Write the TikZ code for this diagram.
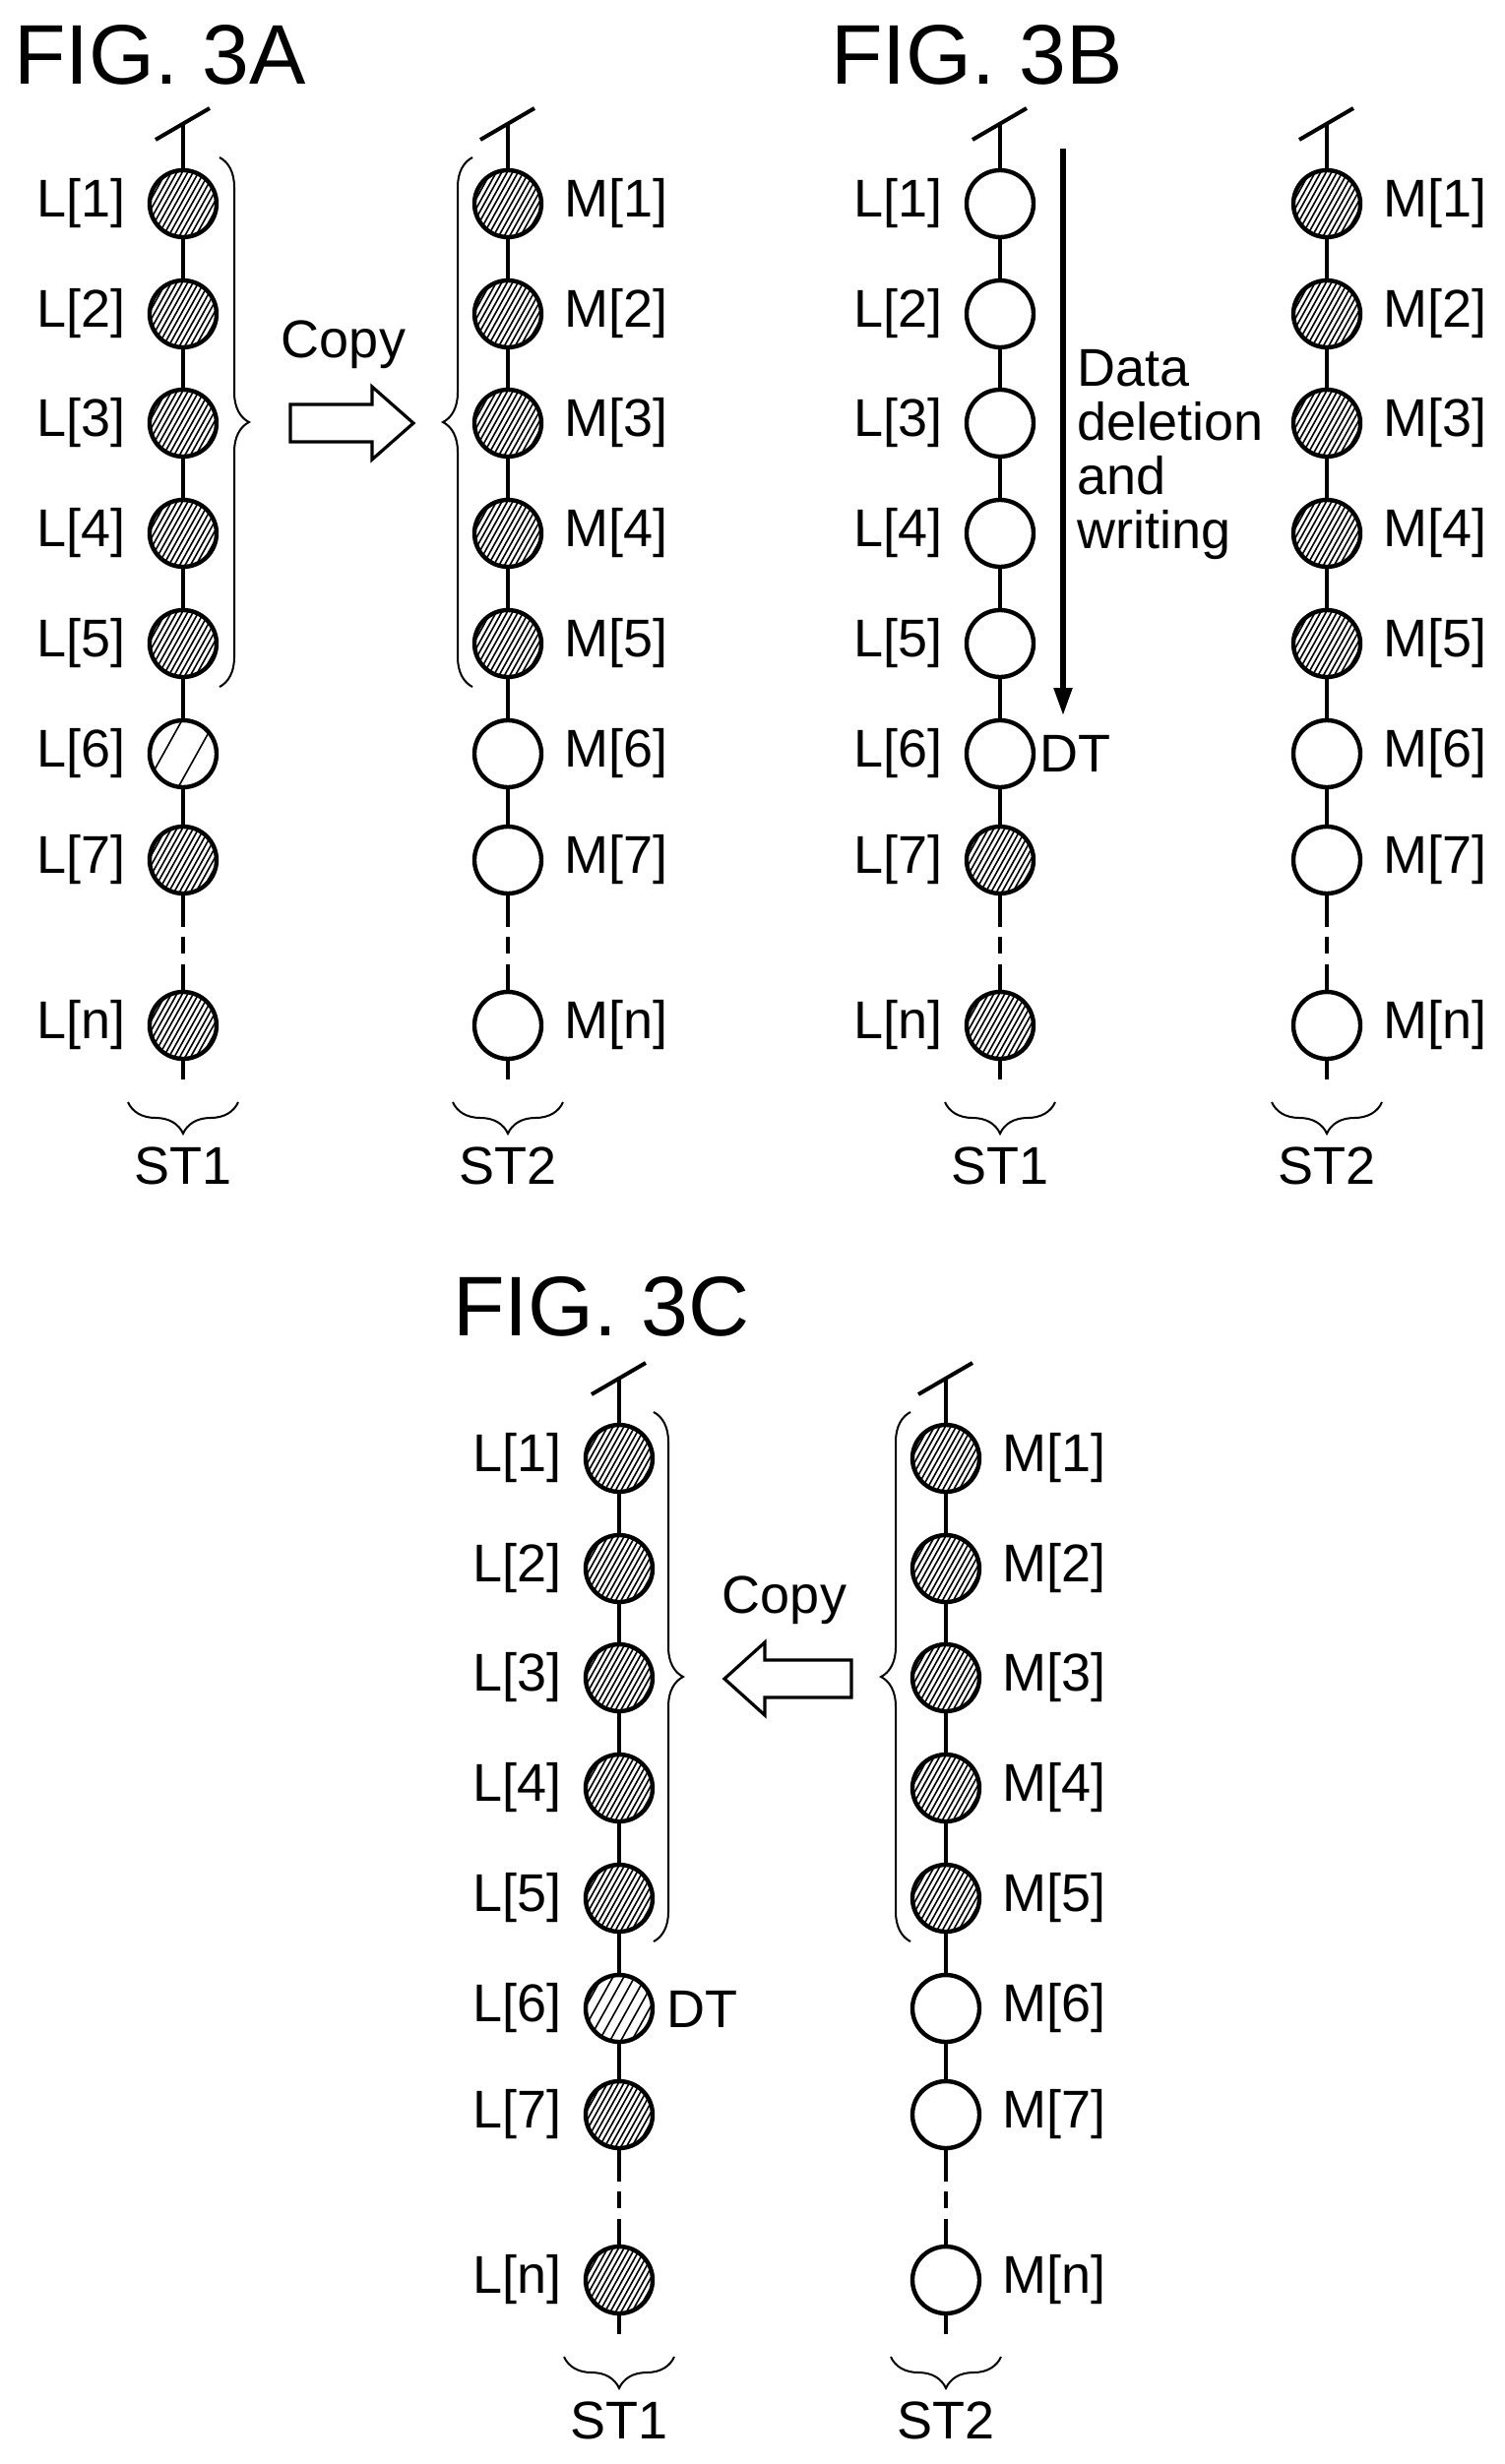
\documentclass[tikz,border=0pt]{standalone}
\usepackage{fontspec}
\setmainfont{Liberation Sans}
\usetikzlibrary{arrows.meta,decorations.pathreplacing}
\tikzset{
 cell/.style={circle,draw,line width=2.2pt,minimum size=34pt,inner sep=0pt,fill=white},
 w/.style={cell},
 h/.style={cell,path picture={\foreach \k in {-90,-84.5,...,90}{\draw[line width=0.8pt] ([shift={(\k-25,45)}]path picture bounding box.center) -- ++(50,-90);}}},
 m/.style={cell,path picture={\foreach \k in {-90,-79,...,90}{\draw[line width=0.8pt] ([shift={(\k-25,45)}]path picture bounding box.center) -- ++(50,-90);}}},
 sp/.style={cell,path picture={\foreach \k in {-20,14}{\draw[line width=0.8pt] ([shift={(\k-25,45)}]path picture bounding box.center) -- ++(50,-90);}}},
 wire/.style={line width=2pt},
 lab/.style={font=\fontsize{27}{29}\selectfont,inner sep=0pt},
 ttl/.style={font=\fontsize{43}{45}\selectfont,inner sep=0pt,anchor=west},
 vbrace/.style={decorate,decoration={brace,amplitude=15pt},line width=1pt},
 bbrace/.style={decorate,decoration={brace,amplitude=16pt},line width=1pt},
 big/.style={draw,line width=1.6pt,fill=white},
}
\newcommand\stcol[8]{%
 \coordinate (#1-t) at (#2,#3-80);
 \coordinate (#1-b) at (#2,#3+890);
 \coordinate (#1-s1) at (#2-28,#3-65);
 \coordinate (#1-s2) at (#2+27,#3-97);
 \draw[wire] (#1-s1) -- (#1-s2);
 \foreach \s [count=\i] in {#4}{%
  \pgfmathsetmacro\yy{#3+{0,112,223,335,447,559,667,835}[\i-1]}
  \node[\s] (#1-\i) at (#2,\yy) {};
  \ifnum\i=8 \def\idx{n}\else\edef\idx{\i}\fi
  \node[lab,anchor=#6] (#1-l\i) at (#2+#7,\yy) {#5[\idx]};
 }
 \draw[wire] (#1-t) -- (#1-1);
 \foreach \i [evaluate=\i as \j using int(\i+1)] in {1,...,6} \draw[wire] (#1-\i) -- (#1-\j);
 \draw[wire,dash pattern=on 16pt off 5pt on 8.5pt off 5.5pt on 30pt] (#1-7) -- (#1-8);
 \draw[wire] (#1-8) -- (#1-b);
 \coordinate (#1-ba) at (#2+56,#3+913);
 \coordinate (#1-bb) at (#2-56,#3+913);
 \draw[bbrace] (#1-ba) -- (#1-bb);
 \node[lab] (#1-st) at (#2,#3+978) {#8};
}
\begin{document}
\begin{tikzpicture}[x=0.5pt,y=-0.5pt]
\useasboundingbox[fill=white] (0,0) rectangle (1529,2504);
% FIG 3A
\node[ttl] (t3a) at (14,56) {FIG. 3A};
\stcol{a1}{186}{207}{h,h,h,h,h,sp,h,h}{L}{east}{-58}{ST1}
\stcol{a2}{516}{207}{h,h,h,h,h,w,w,w}{M}{west}{57}{ST2}
\coordinate (abr1) at (223,160); \coordinate (abr2) at (223,698);
\draw[vbrace] (abr1) -- (abr2);
\coordinate (abr3) at (480,698); \coordinate (abr4) at (480,160);
\draw[vbrace] (abr3) -- (abr4);
\draw[big] (295,411) -- (378,411) -- (378,393) -- (420,430) -- (378,467) -- (378,449) -- (295,449) -- cycle;
\node[lab] (copya) at (349,350) {Copy};
% FIG 3B
\node[ttl] (t3b) at (844,56) {FIG. 3B};
\stcol{b1}{1016}{207}{w,w,w,w,w,w,h,h}{L}{east}{-58}{ST1}
\stcol{b2}{1348}{207}{h,h,h,h,h,w,w,w}{M}{west}{57}{ST2}
\coordinate (ar1) at (1080,151); \coordinate (ar2) at (1080,727);
\draw[line width=2.6pt,-{Triangle[length=14pt,width=9pt]}] (ar1) -- (ar2);
\node[lab,anchor=north west,align=left,font=\fontsize{27}{27.5}\selectfont] (dd) at (1094,355) {Data\\deletion\\and\\writing};
\node[lab,anchor=west] (dtb) at (1056,766) {DT};
% FIG 3C
\node[ttl] (t3c) at (460,1328) {FIG. 3C};
\stcol{c1}{629}{1482}{h,h,h,h,h,m,h,h}{L}{east}{-58}{ST1}
\stcol{c2}{961}{1482}{h,h,h,h,h,w,w,w}{M}{west}{57}{ST2}
\coordinate (cbr1) at (664,1435); \coordinate (cbr2) at (664,1973);
\draw[vbrace] (cbr1) -- (cbr2);
\coordinate (cbr3) at (925,1973); \coordinate (cbr4) at (925,1435);
\draw[vbrace] (cbr3) -- (cbr4);
\draw[big] (865,1687) -- (777,1687) -- (777,1669) -- (736,1706) -- (777,1743) -- (777,1725) -- (865,1725) -- cycle;
\node[lab] (copyc) at (797,1626) {Copy};
\node[lab,anchor=west] (dtc) at (677,2042) {DT};
\end{tikzpicture}
\end{document}
